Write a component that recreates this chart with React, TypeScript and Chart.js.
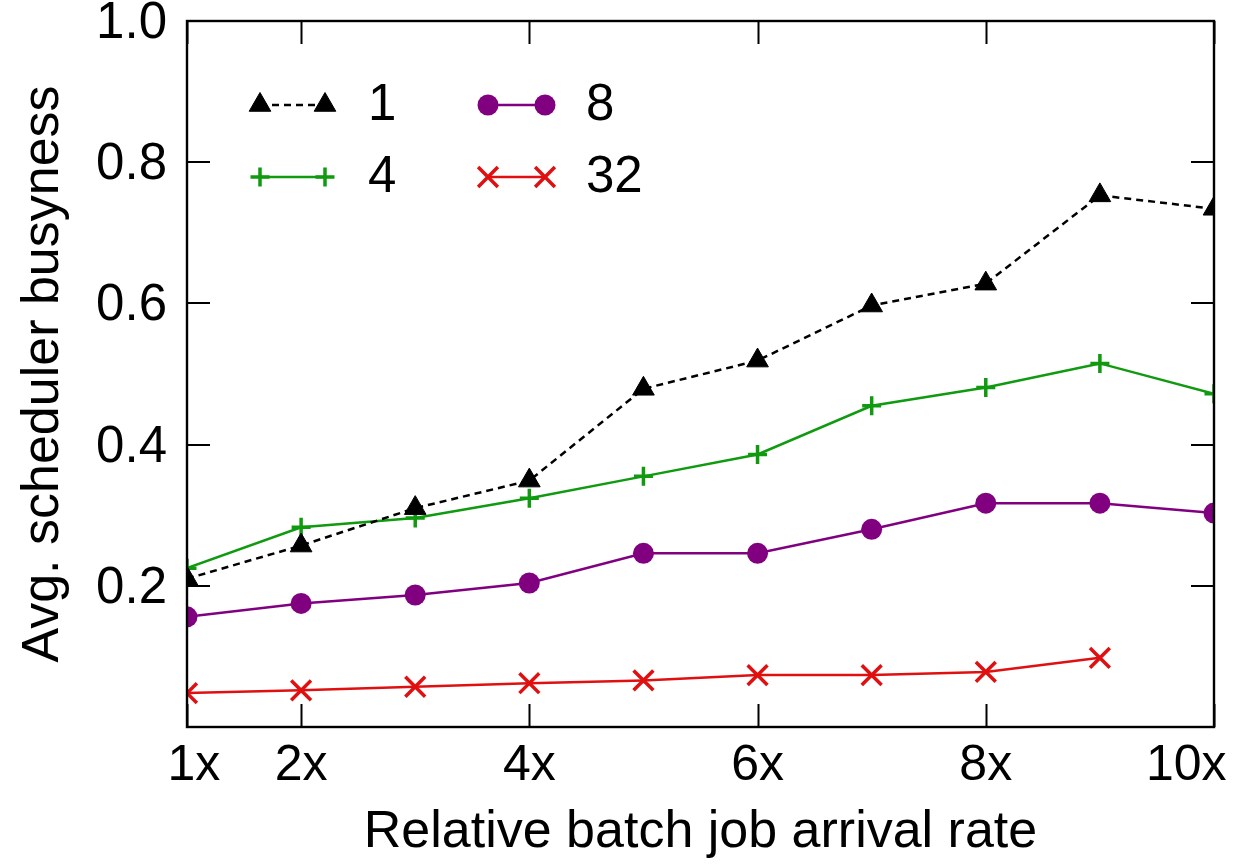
import React, { useEffect, useRef } from "react";
import { Chart, registerables } from "chart.js";

Chart.register(...registerables);

const xValues = [1, 2, 3, 4, 5, 6, 7, 8, 9, 10];
const xTickValues = [1, 2, 4, 6, 8, 10];
const xTickLabels = [" 1x", "2x", "4x", "6x", "8x", "10x    "];
const yTickValues = [0, 0.2, 0.4, 0.6, 0.8, 1.0];

const seriesLabels = ["1", "4", "8", "32"];
const series1 = [0.21, 0.257, 0.31, 0.349, 0.479, 0.519, 0.597, 0.628, 0.753, 0.734];
const series4 = [0.225, 0.283, 0.296, 0.324, 0.355, 0.386, 0.455, 0.481, 0.515, 0.472];
const series8 = [0.156, 0.175, 0.187, 0.204, 0.246, 0.246, 0.28, 0.317, 0.317, 0.303];
const series32 = [0.048, 0.052, 0.057, 0.062, 0.066, 0.0735, 0.0735, 0.078, 0.098];

const FONT = "'Liberation Sans', Arial, Helvetica, sans-serif";

const toPoints = (vals: number[]) => vals.map((v, i) => ({ x: xValues[i], y: v }));

function drawMarker(ctx: CanvasRenderingContext2D, style: string, x: number, y: number, r: number, color: string, lw: number) {
  ctx.save();
  ctx.fillStyle = color;
  ctx.strokeStyle = color;
  ctx.lineWidth = lw;
  ctx.setLineDash([]);
  ctx.beginPath();
  if (style === "triangle") {
    ctx.moveTo(x, y - r);
    ctx.lineTo(x + 0.866 * r, y + 0.5 * r);
    ctx.lineTo(x - 0.866 * r, y + 0.5 * r);
    ctx.closePath();
    ctx.fill();
    ctx.stroke();
  } else if (style === "circle") {
    ctx.arc(x, y, r, 0, Math.PI * 2);
    ctx.fill();
  } else if (style === "cross") {
    ctx.moveTo(x - r, y);
    ctx.lineTo(x + r, y);
    ctx.moveTo(x, y - r);
    ctx.lineTo(x, y + r);
    ctx.stroke();
  } else if (style === "crossRot") {
    const o = r * 0.7071;
    ctx.moveTo(x - o, y - o);
    ctx.lineTo(x + o, y + o);
    ctx.moveTo(x - o, y + o);
    ctx.lineTo(x + o, y - o);
    ctx.stroke();
  }
  ctx.restore();
}

const framePlugin = {
  id: "frameTicks",
  afterDatasetsDraw(chart: any) {
    const { ctx, chartArea: a, scales } = chart;
    const xs = scales.x;
    const ys = scales.y;
    const tl = 23;
    ctx.save();
    ctx.strokeStyle = "#000";
    ctx.lineWidth = 2;
    ctx.setLineDash([]);
    ctx.beginPath();
    xTickValues.forEach((v) => {
      const px = Math.round(xs.getPixelForValue(v)) + 0.5;
      ctx.moveTo(px, a.bottom);
      ctx.lineTo(px, a.bottom - tl);
      ctx.moveTo(px, a.top);
      ctx.lineTo(px, a.top + tl);
    });
    yTickValues.forEach((v) => {
      const py = Math.round(ys.getPixelForValue(v));
      ctx.moveTo(a.left, py);
      ctx.lineTo(a.left + tl, py);
      ctx.moveTo(a.right, py);
      ctx.lineTo(a.right - tl, py);
    });
    ctx.stroke();
    ctx.lineWidth = 2.4;
    ctx.strokeRect(a.left, a.top, a.right - a.left, a.bottom - a.top);
    ctx.restore();

    // legend inside the plot area
    const rows = [105, 177];
    const cols = [
      { x1: 260, x2: 325, tx: 368 },
      { x1: 488, x2: 545, tx: 586 },
    ];
    const order = [
      [0, 0],
      [1, 0],
      [0, 1],
      [1, 1],
    ];
    chart.data.datasets.forEach((ds: any, i: number) => {
      const [ri, ci] = order[i];
      const y = rows[ri];
      const c = cols[ci];
      ctx.save();
      ctx.strokeStyle = ds.borderColor;
      ctx.lineWidth = ds.borderWidth;
      ctx.setLineDash(ds.borderDash || []);
      ctx.beginPath();
      ctx.moveTo(c.x1, y);
      ctx.lineTo(c.x2, y);
      ctx.stroke();
      ctx.restore();
      drawMarker(ctx, ds.pointStyle, c.x1, y, ds.pointRadius, ds.pointBackgroundColor, ds.pointBorderWidth);
      drawMarker(ctx, ds.pointStyle, c.x2, y, ds.pointRadius, ds.pointBackgroundColor, ds.pointBorderWidth);
      ctx.save();
      ctx.fillStyle = "#000";
      ctx.font = `51px ${FONT}`;
      ctx.textAlign = "left";
      ctx.textBaseline = "middle";
      ctx.fillText(ds.label, c.tx, y + 1);
      ctx.restore();
    });
  },
};

export default function App() {
  const ref = useRef<HTMLCanvasElement | null>(null);

  useEffect(() => {
    if (!ref.current) return;
    const chart = new Chart(ref.current, {
      type: "line",
      data: {
        datasets: [
          {
            label: seriesLabels[0],
            data: toPoints(series1),
            borderColor: "#000000",
            borderWidth: 2.5,
            borderDash: [7, 5],
            pointStyle: "triangle",
            pointRadius: 12.5,
            pointBackgroundColor: "#000000",
            pointBorderColor: "#000000",
            pointBorderWidth: 1,
          },
          {
            label: seriesLabels[1],
            data: toPoints(series4),
            borderColor: "#0f9a0f",
            borderWidth: 2.5,
            pointStyle: "cross",
            pointRadius: 9.5,
            pointBackgroundColor: "#0f9a0f",
            pointBorderColor: "#0f9a0f",
            pointBorderWidth: 3.5,
          },
          {
            label: seriesLabels[2],
            data: toPoints(series8),
            borderColor: "#800080",
            borderWidth: 2.5,
            pointStyle: "circle",
            pointRadius: 10.5,
            pointBackgroundColor: "#800080",
            pointBorderColor: "#800080",
            pointBorderWidth: 0,
          },
          {
            label: seriesLabels[3],
            data: toPoints(series32),
            borderColor: "#e01010",
            borderWidth: 2.5,
            pointStyle: "crossRot",
            pointRadius: 14,
            pointBackgroundColor: "#e01010",
            pointBorderColor: "#e01010",
            pointBorderWidth: 3.5,
          },
        ],
      },
      options: {
        responsive: false,
        animation: false,
        events: [],
        layout: { padding: { top: 21, right: 22, left: 0, bottom: 0 } },
        plugins: {
          legend: { display: false },
          tooltip: { enabled: false },
          title: { display: false },
        },
        scales: {
          x: {
            type: "linear",
            min: 1,
            max: 10,
            grid: { display: false, drawTicks: false },
            border: { display: false },
            afterBuildTicks: (scale: any) => {
              scale.ticks = xTickValues.map((v) => ({ value: v }));
            },
            afterFit: (scale: any) => {
              scale.height = 137;
              scale.paddingLeft = 0;
              scale.paddingRight = 0;
            },
            ticks: {
              autoSkip: false,
              maxRotation: 0,
              padding: 9,
              color: "#000",
              font: { family: FONT, size: 50 },
              callback: (v: any) => {
                const i = xTickValues.indexOf(Number(v));
                return i >= 0 ? xTickLabels[i] : "";
              },
            },
            title: {
              display: true,
              text: "Relative batch job arrival rate",
              color: "#000",
              font: { family: FONT, size: 52 },
              padding: { top: 0, bottom: 0 },
            },
          },
          y: {
            type: "linear",
            min: 0,
            max: 1,
            grid: { display: false, drawTicks: false },
            border: { display: false },
            afterBuildTicks: (scale: any) => {
              scale.ticks = yTickValues.map((v) => ({ value: v }));
            },
            afterFit: (scale: any) => {
              scale.width = 187;
              scale.paddingTop = 0;
              scale.paddingBottom = 0;
            },
            ticks: {
              padding: 20,
              labelOffset: 3,
              color: "#000",
              font: { family: FONT, size: 51 },
              callback: (v: any) => (Number(v) === 0 ? "" : Number(v).toFixed(1)),
            },
            title: {
              display: true,
              text: "Avg. scheduler busyness",
              color: "#000",
              font: { family: FONT, size: 52 },
              padding: { top: 12, bottom: 0 },
            },
          },
        },
      },
      plugins: [framePlugin],
    });
    return () => chart.destroy();
  }, []);

  return (
    <div style={{ position: "fixed", left: 0, top: 0, width: 1236, height: 864, background: "#fff" }}>
      <canvas ref={ref} width={1236} height={864} style={{ display: "block" }} />
    </div>
  );
}
